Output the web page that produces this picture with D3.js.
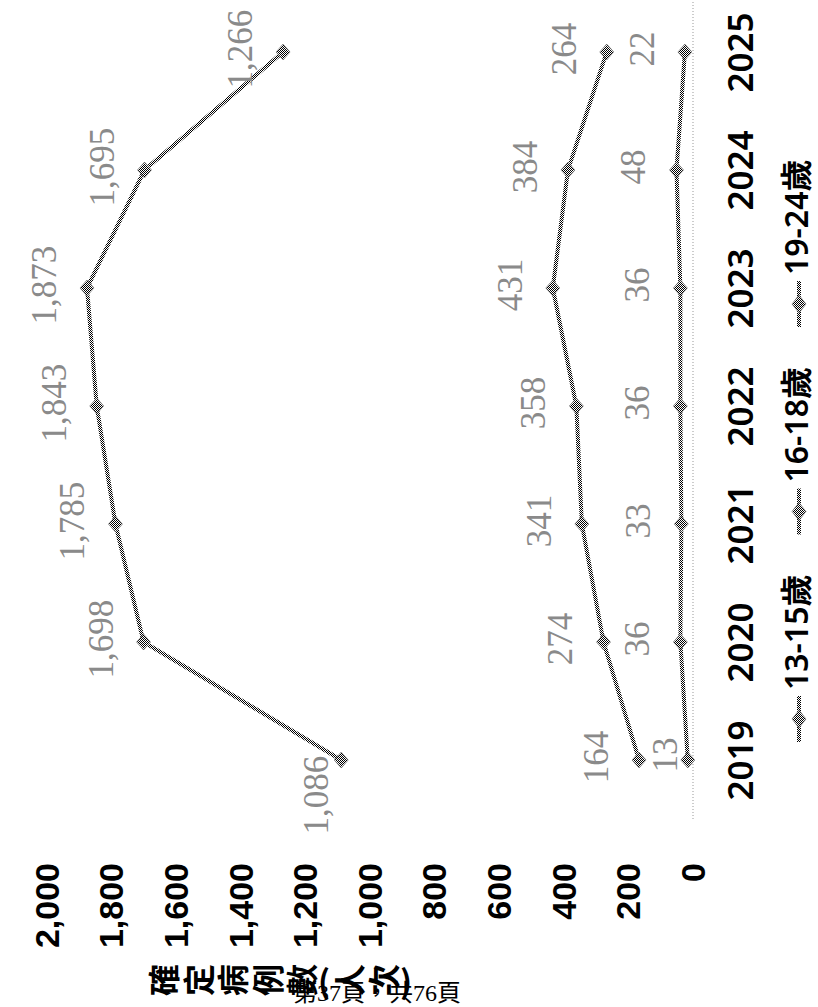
<!DOCTYPE html>
<html>
<head>
<meta charset="utf-8">
<script src="https://cdn.jsdelivr.net/npm/d3@7"></script>
<style>
  html, body { margin: 0; padding: 0; background: #fff; }
  svg { display: block; }
</style>
</head>
<body>
<script>
// ---- data ----
const years = ["2019", "2020", "2021", "2022", "2023", "2024", "2025"];
const age1315 = [13, 36, 33, 36, 36, 48, 22];
const age1618 = [164, 274, 341, 358, 431, 384, 264];
const age1924 = [1086, 1698, 1785, 1843, 1873, 1695, 1266];
const seriesNames = ["13-15歲", "16-18歲", "19-24歲"];
const valueTicks = [0, 200, 400, 600, 800, 1000, 1200, 1400, 1600, 1800, 2000];
const axisTitle = "確定病例數(人次)";
const footerText = "第37頁，共76頁";

const W = 818, H = 1007;
const svg = d3.select("body").append("svg").attr("width", W).attr("height", H);

// checker (dither) pattern
const defs = svg.append("defs");
const pat = defs.append("pattern").attr("id", "chk")
  .attr("patternUnits", "userSpaceOnUse").attr("width", 2).attr("height", 2);
pat.append("rect").attr("width", 2).attr("height", 2).attr("fill", "#fff");
pat.append("rect").attr("x", 0).attr("y", 0).attr("width", 1).attr("height", 1).attr("fill", "#000");
pat.append("rect").attr("x", 1).attr("y", 1).attr("width", 1).attr("height", 1).attr("fill", "#000");

// rotated chart: values run right-to-left, years bottom-to-top
const x = d3.scaleLinear().domain([0, 2000]).range([692, 46]);
const y = d3.scalePoint().domain(years).range([760, 52]);
const step = y.step();

// category axis line (dotted) at value 0
svg.append("line")
  .attr("x1", x(0) + 1).attr("x2", x(0) + 1)
  .attr("y1", y(years[0]) + step / 2).attr("y2", y(years[years.length - 1]) - step / 2)
  .attr("stroke", "#999").attr("stroke-width", 1).attr("stroke-dasharray", "1,2");

// value axis (tick labels at bottom, rotated)
const vAxis = svg.append("g").attr("transform", "translate(0,863)")
  .call(d3.axisBottom(x).tickValues(valueTicks).tickFormat(d3.format(",")).tickSize(0));
vAxis.select(".domain").remove();
vAxis.selectAll("text")
  .attr("transform", "rotate(-90)")
  .attr("x", 0).attr("y", 0).attr("dy", "0.36em")
  .attr("text-anchor", "end")
  .attr("fill", "#000")
  .style("font-family", "'Liberation Sans', Arial, sans-serif")
  .style("font-weight", "bold")
  .style("font-size", "34px");

// category axis (year labels at right, rotated)
const cAxis = svg.append("g").attr("transform", "translate(753,0)")
  .call(d3.axisRight(y).tickSize(0));
cAxis.select(".domain").remove();
cAxis.selectAll("text")
  .attr("transform", "rotate(-90)")
  .attr("x", 0).attr("y", 0).attr("dy", 0)
  .attr("text-anchor", "middle")
  .attr("fill", "#000")
  .style("font-family", "'Noto Sans', sans-serif")
  .style("font-weight", "600")
  .style("font-size", "35px");

// series
const seriesData = [age1315, age1618, age1924].map((vals, i) => ({
  name: seriesNames[i],
  points: vals.map((v, j) => ({ year: years[j], v }))
}));

const line = d3.line().x(d => x(d.v)).y(d => y(d.year));
const diamond = (cx, cy, rx, ry) =>
  `M${cx},${cy - ry}L${cx + rx},${cy}L${cx},${cy + ry}L${cx - rx},${cy}Z`;

// manual label nudges (px) for labels moved in the original
const labelNudge = { "13-15歲|2019": { dx: 20, dy: -2 }, "19-24歲|2019": { dx: 18, dy: 38 } };

seriesData.forEach(s => {
  const g = svg.append("g");
  g.append("path").datum(s.points).attr("d", line)
    .attr("fill", "none").attr("stroke", "url(#chk)").attr("stroke-width", 4);
  g.selectAll("path.mk").data(s.points).join("path").attr("class", "mk")
    .attr("d", d => diamond(x(d.v), y(d.year), 7, 8))
    .attr("fill", "url(#chk)").attr("stroke", "#777").attr("stroke-width", 0.6);
  g.selectAll("text").data(s.points).join("text")
    .attr("transform", d => {
      const n = labelNudge[s.name + "|" + d.year] || { dx: 0, dy: 0 };
      return `translate(${x(d.v) - 31 + n.dx},${y(d.year) - 3 + n.dy}) rotate(-90)`;
    })
    .attr("text-anchor", "middle")
    .attr("fill", "#8a8a8a")
    .style("font-family", "'Liberation Serif', 'Times New Roman', serif")
    .style("font-size", "35px")
    .text(d => d3.format(",")(d.v));
});

// legend
seriesNames.forEach((name, i) => {
  const y0 = 742 - i * 207.5;
  const lg = svg.append("g");
  lg.append("line").attr("x1", 799).attr("x2", 799).attr("y1", y0).attr("y2", y0 - 46)
    .attr("stroke", "url(#chk)").attr("stroke-width", 4);
  lg.append("path").attr("d", diamond(799, y0 - 23, 7, 9))
    .attr("fill", "url(#chk)").attr("stroke", "#777").attr("stroke-width", 0.6);
  lg.append("text")
    .attr("transform", `translate(808,${y0 - 52}) rotate(-90)`)
    .attr("text-anchor", "start")
    .attr("fill", "#000")
    .style("font-family", "'Noto Sans', 'Noto Sans CJK TC', sans-serif")
    .style("font-weight", "600")
    .style("font-size", "32px")
    .text(name);
});

// axis title: vertical CJK text turned sideways
const titleChars = Array.from(axisTitle);
let tx = 145;
const tg = svg.append("g")
  .style("font-family", "'Noto Sans CJK TC', sans-serif")
  .style("font-weight", "bold")
  .style("font-size", "32px");
titleChars.forEach(ch => {
  const isParen = ch === "(" || ch === ")";
  const adv = isParen ? 13 : 34.5;
  const cx = tx + adv / 2;
  tg.append("text")
    .attr("transform", isParen ? `translate(${cx},980)` : `translate(${cx},980) rotate(-90)`)
    .attr("text-anchor", "middle")
    .attr("dominant-baseline", "central")
    .attr("fill", "#000")
    .text(ch);
  tx += adv;
});

// page footer
svg.append("text")
  .attr("x", 293).attr("y", 1001)
  .attr("fill", "#000")
  .style("font-family", "'Liberation Serif', 'Noto Sans CJK TC', serif")
  .style("font-size", "24px")
  .text(footerText);
</script>
</body>
</html>
